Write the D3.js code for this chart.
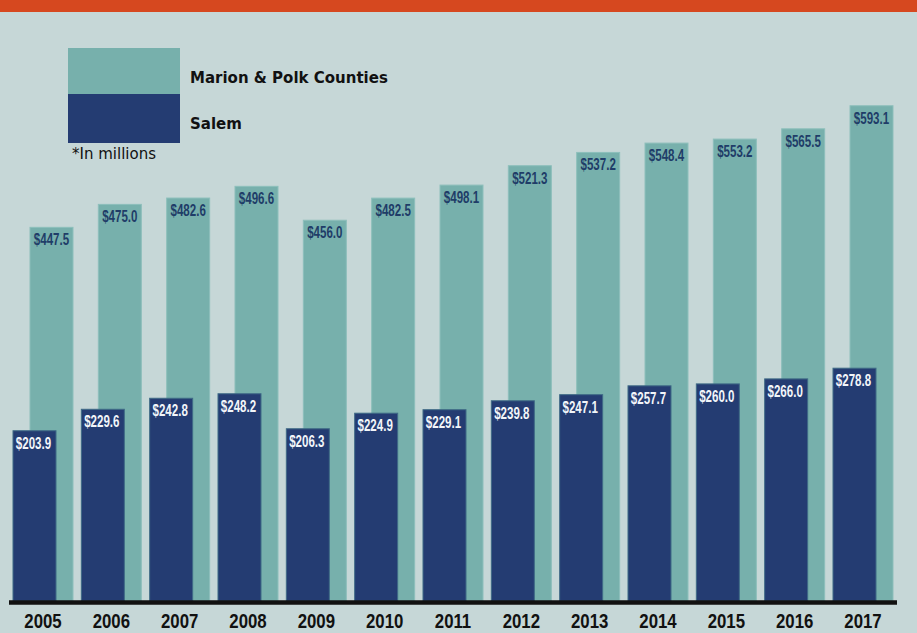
<!DOCTYPE html>
<html>
<head>
<meta charset="utf-8">
<script src="https://cdn.jsdelivr.net/npm/d3@7"></script>
<style>
  html, body { margin: 0; padding: 0; background: #c6d7d7; }
  svg { display: block; }
</style>
</head>
<body>
<svg id="chart" width="917" height="633"></svg>
<script>
// Annual totals, in millions of dollars
const years = ["2005","2006","2007","2008","2009","2010","2011","2012","2013","2014","2015","2016","2017"];
const marionPolk = [447.5, 475.0, 482.6, 496.6, 456.0, 482.5, 498.1, 521.3, 537.2, 548.4, 553.2, 565.5, 593.1];
const salem = [203.9, 229.6, 242.8, 248.2, 206.3, 224.9, 229.1, 239.8, 247.1, 257.7, 260.0, 266.0, 278.8];
const seriesNames = ["Marion & Polk Counties", "Salem"];
const unitNote = "*In millions";

const W = 917, H = 633;
const colors = { bg: "#c6d7d7", band: "#d6481f", teal: "#77b0ac", navy: "#243c72",
                 tealText: "#1f3d68", navyText: "#f2f5f9", ink: "#111" };

const svg = d3.select("#chart");
svg.append("rect").attr("width", W).attr("height", H).attr("fill", colors.bg);
svg.append("rect").attr("width", W).attr("height", 12).attr("fill", colors.band);

const baseY = 601;
const x = d3.scaleBand().domain(years).range([13, 893]).paddingInner(0.122).paddingOuter(0);
const y = d3.scaleLinear().domain([0, 600]).range([baseY, 100]);

const bw = x.bandwidth();
const barW = bw * 43 / 60;
const tealOff = bw * 17 / 60;

const fmt = v => "$" + d3.format(".1f")(v);

// county-wide bars sit behind, offset to the right
const gT = svg.append("g");
gT.selectAll("rect").data(years).join("rect")
  .attr("x", d => x(d) + tealOff)
  .attr("y", (d, i) => y(marionPolk[i]))
  .attr("width", barW)
  .attr("height", (d, i) => baseY - y(marionPolk[i]))
  .attr("fill", colors.teal)
  .attr("stroke", "#8dbfbb").attr("stroke-width", 1);

gT.selectAll("g.lbl").data(years).join("g").attr("class", "lbl")
  .attr("transform", (d, i) => `translate(${x(d) + tealOff + barW / 2},${y(marionPolk[i]) + 18})`)
  .append("text")
  .attr("transform", "scale(0.68,1)")
  .attr("text-anchor", "middle")
  .attr("font-family", "Liberation Sans, Arial, sans-serif")
  .attr("font-weight", "bold")
  .attr("font-size", 17)
  .attr("fill", colors.tealText)
  .text((d, i) => fmt(marionPolk[i]));

// city bars in front
const gS = svg.append("g");
gS.selectAll("rect").data(years).join("rect")
  .attr("x", d => x(d))
  .attr("y", (d, i) => y(salem[i]))
  .attr("width", barW)
  .attr("height", (d, i) => baseY - y(salem[i]))
  .attr("fill", colors.navy)
  .attr("stroke", "#3f6a86").attr("stroke-width", 1);

gS.selectAll("g.lbl").data(years).join("g").attr("class", "lbl")
  .attr("transform", (d, i) => `translate(${x(d) + barW / 2 - 1},${y(salem[i]) + 18})`)
  .append("text")
  .attr("transform", "scale(0.68,1)")
  .attr("text-anchor", "middle")
  .attr("font-family", "Liberation Sans, Arial, sans-serif")
  .attr("font-weight", "bold")
  .attr("font-size", 17)
  .attr("fill", colors.navyText)
  .text((d, i) => fmt(salem[i]));

// baseline and year axis
svg.append("line")
  .attr("x1", 9).attr("x2", 897)
  .attr("y1", baseY + 1.5).attr("y2", baseY + 1.5)
  .attr("stroke", colors.ink).attr("stroke-width", 4.5);

const axis = d3.axisBottom(x).tickSize(0).tickPadding(0);
const gA = svg.append("g").attr("transform", `translate(0,${baseY})`).call(axis);
gA.select(".domain").remove();
gA.selectAll(".tick").attr("transform", d => `translate(${x(d) + bw / 2},0)`);
gA.selectAll(".tick text")
  .attr("y", 27).attr("dy", null)
  .attr("transform", "scale(0.8,1)")
  .attr("font-family", "Liberation Sans, Arial, sans-serif")
  .attr("font-weight", "bold")
  .attr("font-size", 21)
  .attr("fill", colors.ink);

// legend
const lg = svg.append("g");
lg.append("rect").attr("x", 68).attr("y", 48).attr("width", 112).attr("height", 46).attr("fill", colors.teal);
lg.append("rect").attr("x", 68).attr("y", 94).attr("width", 112).attr("height", 49).attr("fill", colors.navy);
lg.selectAll("text.name").data(seriesNames).join("text").attr("class", "name")
  .attr("x", 190)
  .attr("y", (d, i) => 83 + i * 46)
  .attr("font-family", "DejaVu Sans, sans-serif")
  .attr("font-weight", "bold")
  .attr("font-size", 15)
  .attr("fill", colors.ink)
  .text(d => d);
lg.append("text")
  .attr("x", 72).attr("y", 159)
  .attr("font-family", "DejaVu Sans, sans-serif")
  .attr("font-size", 15)
  .attr("fill", colors.ink)
  .text(unitNote);
</script>
</body>
</html>
